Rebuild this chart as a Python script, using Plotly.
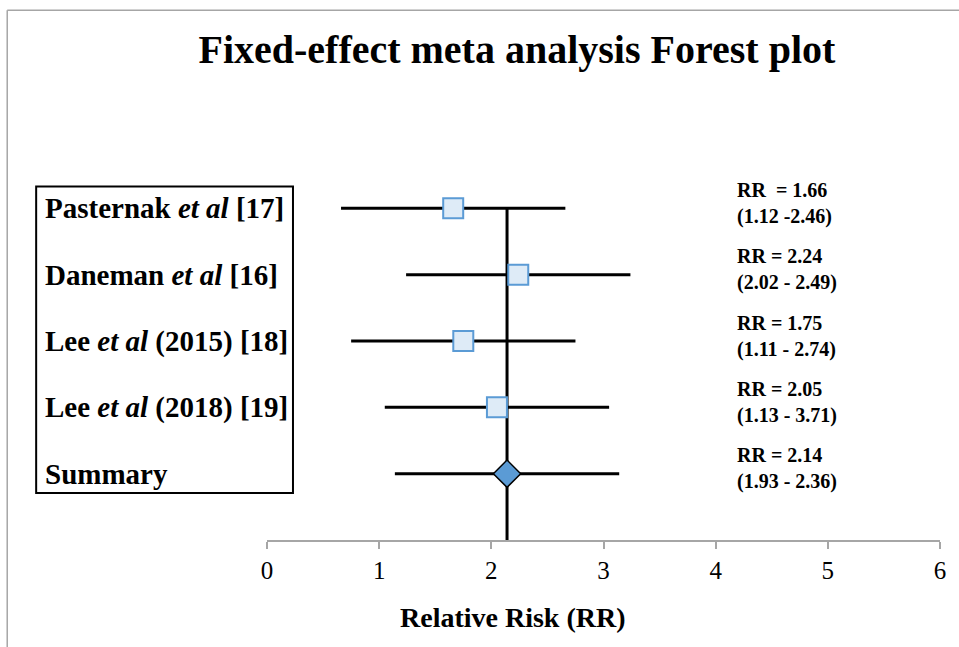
import plotly.graph_objects as go

# ---- data ----
study_labels = [
    "Pasternak <i>et al</i> [17]",
    "Daneman <i>et al</i> [16]",
    "Lee <i>et al</i> (2015) [18]",
    "Lee <i>et al</i> (2018) [19]",
    "Summary",
]
row_pos = [5, 4, 3, 2, 1]
rr_values = [1.66, 2.24, 1.75, 2.05, 2.14]
ci_low = [1.12, 2.02, 1.11, 1.13, 1.93]
ci_high = [2.46, 2.49, 2.74, 3.71, 2.36]
rr_text = [
    "RR  = 1.66<br>(1.12 -2.46)",
    "RR = 2.24<br>(2.02 - 2.49)",
    "RR = 1.75<br>(1.11 - 2.74)",
    "RR = 2.05<br>(1.13 - 3.71)",
    "RR = 2.14<br>(1.93 - 2.36)",
]
# error bars as drawn in the chart (fixed +/- value)
error_halfwidth = [1, 1, 1, 1, 1]
x_ticks = [0, 1, 2, 3, 4, 5, 6]

FONT = "Liberation Serif, Times New Roman, serif"

fig = go.Figure()

# vertical summary line
fig.add_trace(go.Scatter(
    x=[rr_values[-1], rr_values[-1]], y=[0, row_pos[0]],
    mode="lines", line=dict(color="black", width=3),
    hoverinfo="skip", showlegend=False,
))

# study squares with error bars
fig.add_trace(go.Scatter(
    x=rr_values[:-1], y=row_pos[:-1], mode="markers",
    marker=dict(symbol="square", size=20, color="#deebf7",
                line=dict(color="#5b9bd5", width=2)),
    error_x=dict(type="data", array=error_halfwidth[:-1], symmetric=True,
                 color="black", thickness=3, width=0),
    showlegend=False,
))

# summary diamond
fig.add_trace(go.Scatter(
    x=rr_values[-1:], y=row_pos[-1:], mode="markers",
    marker=dict(symbol="diamond", size=21, color="#5b9bd5",
                line=dict(color="black", width=1.5)),
    error_x=dict(type="data", array=error_halfwidth[-1:], symmetric=True,
                 color="black", thickness=3, width=0),
    showlegend=False,
))

annotations = []
for lab, y in zip(study_labels, row_pos):
    annotations.append(dict(
        x=-0.333, xref="paper", y=y, yref="y", text="<b>" + lab + "</b>",
        showarrow=False, xanchor="left", yanchor="middle",
        font=dict(family=FONT, size=29, color="black"),
    ))
for t, y in zip(rr_text, row_pos):
    annotations.append(dict(
        x=4.17, xref="x", y=y, yref="y", text="<b>" + t + "</b>",
        showarrow=False, xanchor="left", yanchor="middle", align="left",
        yshift=5, font=dict(family=FONT, size=20, color="black"),
    ))
annotations.append(dict(
    x=0.365, xref="paper", y=-0.195, yref="paper",
    text="<b>Relative Risk (RR)</b>", showarrow=False,
    xanchor="center", yanchor="middle",
    font=dict(family=FONT, size=28, color="black"),
))

shapes = [
    # label box
    dict(type="rect", xref="paper", yref="paper",
         x0=-0.343, x1=0.0386, y0=0.118, y1=0.888,
         line=dict(color="black", width=2), fillcolor="rgba(0,0,0,0)"),
    # outer frame (top + left)
    dict(type="line", xref="paper", yref="paper",
         x0=-0.386, x1=1.05, y0=1.331, y1=1.331,
         line=dict(color="#a6a6a6", width=1.5)),
    dict(type="line", xref="paper", yref="paper",
         x0=-0.386, x1=-0.386, y0=1.331, y1=-0.3,
         line=dict(color="#a6a6a6", width=1.5)),
]

fig.update_layout(
    width=959, height=647,
    margin=dict(l=267, r=19, t=142, b=107),
    paper_bgcolor="white", plot_bgcolor="white",
    title=dict(text="<b>Fixed-effect meta analysis Forest plot</b>",
               x=0.539, xref="container", xanchor="center",
               y=0.925, yref="container", yanchor="middle",
               font=dict(family=FONT, size=40, color="black")),
    xaxis=dict(range=[0, 6], tickvals=x_ticks, ticks="outside", ticklen=7,
               tickcolor="#a6a6a6", tickwidth=1.5, showline=True,
               linecolor="#a6a6a6", linewidth=1.5, showgrid=False,
               zeroline=False, tickfont=dict(family=FONT, size=25, color="black")),
    yaxis=dict(range=[0, 6], visible=False, showgrid=False, zeroline=False),
    annotations=annotations, shapes=shapes,
)

fig.write_html(
    "out.html",
    config={"displayModeBar": False},
    post_script="document.body.style.margin='0';document.body.style.overflow='hidden';",
)
